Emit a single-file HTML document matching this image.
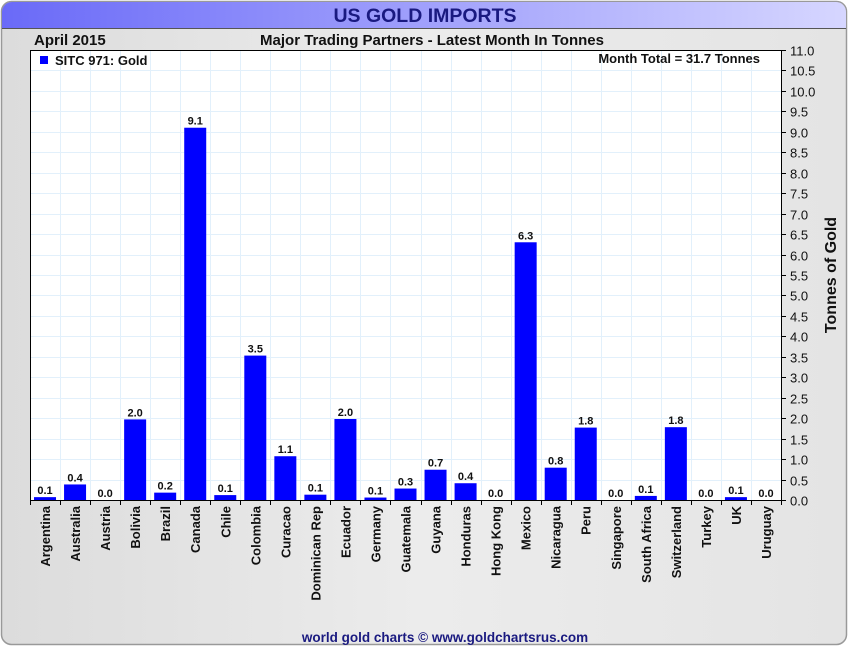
<!DOCTYPE html>
<html><head><style>
body{margin:0;width:850px;height:650px;overflow:hidden;background:#fff;font-family:"Liberation Sans",sans-serif}
</style></head><body>
<svg width="850" height="650" xmlns="http://www.w3.org/2000/svg" font-family="Liberation Sans, sans-serif">
<defs>
<linearGradient id="t" x1="0" x2="1"><stop offset="0" stop-color="#6a6af8"/><stop offset="1" stop-color="#d6d6ff"/></linearGradient>
<linearGradient id="bg" x1="0" x2="1"><stop offset="0" stop-color="#dcdcdc"/><stop offset="0.5" stop-color="#ececec"/><stop offset="1" stop-color="#e4e4e4"/></linearGradient>
</defs>
<rect x="1.5" y="1.5" width="845" height="643" rx="10" fill="url(#bg)" stroke="#999" stroke-width="1.5"/>
<path d="M2,28 V12 A10,10 0 0 1 12,2 H836 A10,10 0 0 1 846,12 V28 Z" fill="url(#t)"/>
<line x1="2" y1="28.5" x2="846" y2="28.5" stroke="#555"/>
<text x="425" y="22" text-anchor="middle" font-size="19.5" font-weight="bold" fill="#1a1a80">US GOLD IMPORTS</text>
<text x="34" y="45" font-size="15" font-weight="bold" fill="#111">April 2015</text>
<text x="432" y="45" text-anchor="middle" font-size="15" font-weight="bold" fill="#111">Major Trading Partners - Latest Month In Tonnes</text>
<rect x="30.5" y="50.5" width="751" height="450" fill="#fff" stroke="#000"/>
<g id="grid" stroke="#e2f0fb" stroke-width="1"></g>
<g id="bars"></g>
<line x1="30" y1="500.5" x2="782" y2="500.5" stroke="#000"/>
<rect x="40" y="56" width="8" height="8" fill="#0000ff"/>
<text x="55" y="65" font-size="13" font-weight="bold" fill="#111">SITC 971: Gold</text>
<text x="760" y="63" text-anchor="end" font-size="13" font-weight="bold" fill="#111">Month Total = 31.7 Tonnes</text>
<text transform="translate(836,275) rotate(-90)" text-anchor="middle" font-size="16" font-weight="bold" fill="#111">Tonnes of Gold</text>
<text x="445" y="642" text-anchor="middle" font-size="13.5" font-weight="bold" fill="#1a1a80">world gold charts © www.goldchartsrus.com</text>
</svg>
<script>
var ns="http://www.w3.org/2000/svg",svg=document.querySelector('svg');
function el(t,a,p,tx){var e=document.createElementNS(ns,t);for(var k in a)e.setAttribute(k,a[k]);if(tx!=null)e.textContent=tx;(p||svg).appendChild(e);return e;}
var g=document.getElementById('grid'),b=document.getElementById('bars');
var names=["Argentina","Australia","Austria","Bolivia","Brazil","Canada","Chile","Colombia","Curacao","Dominican Rep","Ecuador","Germany","Guatemala","Guyana","Honduras","Hong Kong","Mexico","Nicaragua","Peru","Singapore","South Africa","Switzerland","Turkey","UK","Uruguay"];
var v=[0.07,0.38,0.0,1.97,0.18,9.1,0.12,3.53,1.07,0.13,1.98,0.06,0.28,0.74,0.41,0.0,6.3,0.79,1.77,0.0,0.1,1.78,0.0,0.07,0.0];
var L=30,W=751/25,Y0=500,S=450/11;
for(var i=1;i<22;i++){var y=Y0-i*0.5*S;el('line',{x1:31,x2:781,y1:Math.round(y)+.5,y2:Math.round(y)+.5},g);}
for(var i=1;i<25;i++){var x=Math.round(L+i*W)+.5;el('line',{x1:x,x2:x,y1:51,y2:500},g);}
for(var i=0;i<=22;i++){var y=Math.round(Y0-i*0.5*S)+.5;el('line',{x1:781,x2:786,y1:y,y2:y,stroke:'#000'});el('text',{x:790,y:y+5,'font-size':13,fill:'#111'},null,(i/2).toFixed(1));}
for(var i=0;i<25;i++){var cx=L+(i+.5)*W,h=v[i]*S;
if(h>0)el('rect',{x:cx-11,y:Y0-h,width:22,height:h,fill:'#0000ff'},b);
el('text',{x:cx,y:Y0-h-3,'text-anchor':'middle','font-size':11,'font-weight':'bold',fill:'#111'},null,v[i].toFixed(1));
var tx=Math.round(L+i*W)+.5;el('line',{x1:tx,x2:tx,y1:500,y2:505,stroke:'#000'});
el('text',{transform:'translate('+(cx+5)+',506) rotate(-90)','text-anchor':'end','font-size':13,'font-weight':'bold',fill:'#111'},null,names[i]);}
el('line',{x1:781.5,x2:781.5,y1:500,y2:505,stroke:'#000'});
</script>
</body></html>
